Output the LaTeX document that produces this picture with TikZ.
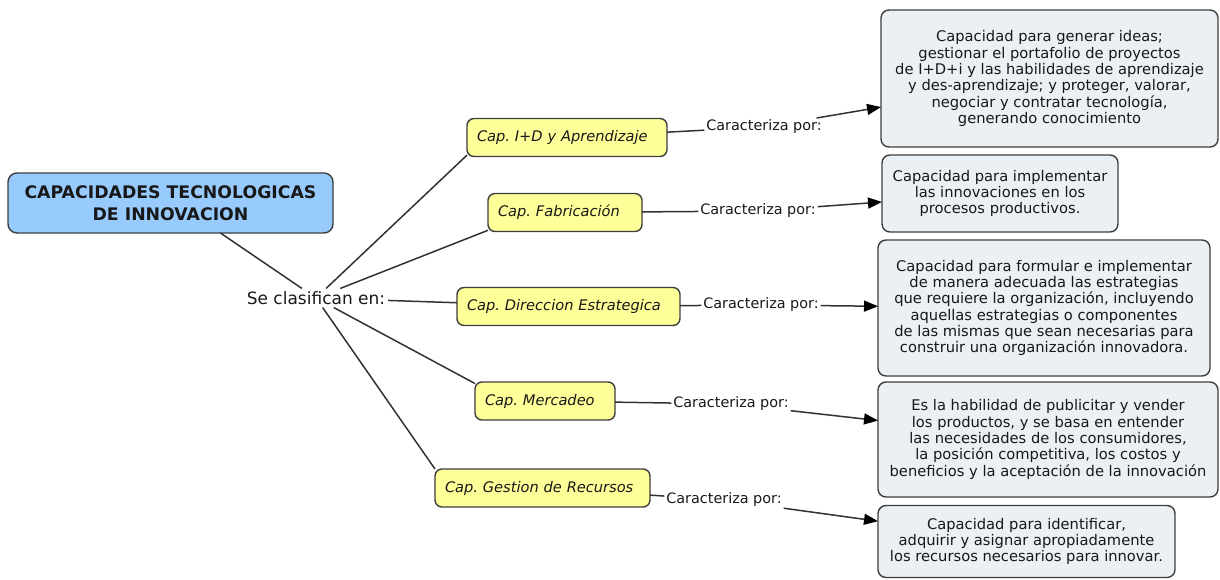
\documentclass[tikz,border=0pt]{standalone}
\usepackage{fontspec}
\setmainfont{DejaVu Sans}
\usetikzlibrary{arrows.meta}
\definecolor{rootblue}{RGB}{152,203,253}
\definecolor{capyellow}{RGB}{255,255,153}
\definecolor{descgray}{RGB}{235,240,244}
\definecolor{edgegray}{RGB}{62,62,62}
\definecolor{linkgray}{RGB}{50,50,50}
\definecolor{inkdark}{RGB}{24,24,24}

\begin{document}
\frenchspacing
\begin{tikzpicture}[x=1pt,y=-1pt,
  every node/.style={text=inkdark, outer sep=0pt},
  rootbox/.style={draw=edgegray, line width=1.4pt, fill=rootblue, rounded corners=9pt,
    align=center, minimum width=325pt, minimum height=60pt, inner sep=0pt,
    font=\fontsize{17.3}{22}\selectfont\bfseries},
  capbox/.style={draw=edgegray, line width=1.4pt, fill=capyellow, rounded corners=7pt,
    minimum height=38pt, inner xsep=10pt, inner ysep=0pt, align=left, text width=#1,
    font=\fontsize{14.6}{17}\selectfont\itshape},
  descbox/.style={draw=edgegray, line width=1.4pt, fill=descgray, rounded corners=8pt,
    align=center, inner sep=0pt, font=\fontsize{14.7}{16.3}\selectfont},
  linklabel/.style={inner sep=2pt, font=\fontsize{14.4}{17}\selectfont},
  link/.style={draw=linkgray, line width=1.5pt},
  arrowlink/.style={link, -{Triangle[length=14pt,width=11pt,color=black]}},
]
\useasboundingbox (0,0) rectangle (1220,579);

% main concept and linking phrase
\node[rootbox] (root) at (170.5,203) {CAPACIDADES TECNOLOGICAS\\DE INNOVACION};
\node[linklabel, inner sep=3pt, font=\fontsize{17}{20}\selectfont] (se) at (316,298) {Se clasifican en:};

% capability types
\node[capbox=180pt] (b1) at (567,137.5) {Cap. I+D y Aprendizaje};
\node[capbox=134pt] (b2) at (565,212.5) {Cap. Fabricación};
\node[capbox=203pt] (b3) at (568.5,306.5) {Cap. Direccion Estrategica};
\node[capbox=120pt] (b4) at (545,401) {Cap. Mercadeo};
\node[capbox=195pt] (b5) at (542.5,488) {Cap. Gestion de Recursos};

% linking phrases
\node[linklabel] (c1) at (764,127) {Caracteriza por:};
\node[linklabel] (c2) at (758,211) {Caracteriza por:};
\node[linklabel] (c3) at (761,305) {Caracteriza por:};
\node[linklabel] (c4) at (731,404) {Caracteriza por:};
\node[linklabel] (c5) at (724,500) {Caracteriza por:};

% descriptions
\node[descbox, minimum width=337pt, minimum height=137pt] (d1) at (1049.5,78.5)
  {Capacidad para generar ideas;\\gestionar el portafolio de proyectos\\de I+D+i y las habilidades de aprendizaje\\y des-aprendizaje; y proteger, valorar,\\negociar y contratar tecnología,\\generando conocimiento};
\node[descbox, minimum width=236pt, minimum height=77pt] (d2) at (1000,193.5)
  {Capacidad para implementar\\las innovaciones en los\\procesos productivos.};
\node[descbox, minimum width=332pt, minimum height=136pt] (d3) at (1044,308)
  {Capacidad para formular e implementar\\de manera adecuada las estrategias\\que requiere la organización, incluyendo\\aquellas estrategias o componentes\\de las mismas que sean necesarias para\\construir una organización innovadora.};
\node[descbox, minimum width=340pt, minimum height=115pt] (d4) at (1048,439.5)
  {Es la habilidad de publicitar y vender\\los productos, y se basa en entender\\las necesidades de los consumidores,\\la posición competitiva, los costos y\\beneficios y la aceptación de la innovación};
\node[descbox, minimum width=297pt, minimum height=72pt] (d5) at (1026.5,541.5)
  {Capacidad para identificar,\\adquirir y asignar apropiadamente\\los recursos necesarios para innovar.};

% connectors
\draw[link] (root.-31) -- (se);
\draw[link] (se) -- (b1.190);
\draw[link] (se) -- (b2.193);
\draw[link] (se) -- (b3);
\draw[link] (se) -- (b4.166);
\draw[link] (se) -- (b5.170);

\draw[link] (b1) -- (c1);
\draw[link] (b2) -- (c2);
\draw[link] (b3) -- (c3);
\draw[link] (b4) -- (c4);
\draw[link] (b5) -- (c5);

\draw[arrowlink] (c1) -- (d1);
\draw[arrowlink] (c2) -- (d2);
\draw[arrowlink] (c3) -- (d3);
\draw[arrowlink] (c4) -- (d4);
\draw[arrowlink] (c5) -- (d5);
\end{tikzpicture}
\end{document}
